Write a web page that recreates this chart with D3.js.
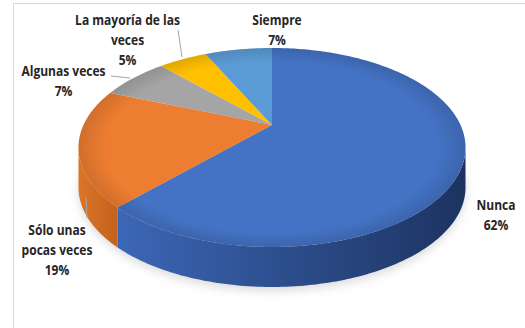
<!DOCTYPE html>
<html><head><meta charset="utf-8">
<script src="https://cdn.jsdelivr.net/npm/d3@7"></script>
<style>html,body{margin:0;padding:0;background:#fff;}svg{display:block;}</style>
</head><body><svg id="c" width="525" height="328"></svg>
<script>
const categories = ["Nunca", "Sólo unas pocas veces", "Algunas veces", "La mayoría de las veces", "Siempre"];
const values = [62, 19, 7, 5, 7];
const labelLines = [["Nunca", "62%"], ["Sólo unas", "pocas veces", "19%"], ["Algunas veces", "7%"], ["La mayoría de las", "veces", "5%"], ["Siempre", "7%"]];
const topColors = ["#4472C4", "#ED7D31", "#A5A5A5", "#FFC000", "#5B9BD5"];
const sideLight = ["#3f6cbf", "#dc7429", "#949494", "#e6ad00", "#4f8bc2"];
const sideDark = ["#1c3360", "#c2621c", "#7a7a7a", "#c49200", "#3a6c9a"];

const svg = d3.select("#c");
const W = 525, H = 328;
svg.append("rect").attr("x", 13.5).attr("y", 3.5).attr("width", W).attr("height", H)
  .attr("fill", "#fff").attr("stroke", "#d9d9d9").attr("stroke-width", 1);

const cx = 272, cy = 125, A = 188.5, B = 94.4, k = 0.226, depth = 40;
function proj(theta, r = 1) {
  const u = r * Math.sin(theta), v = -r * Math.cos(theta);
  const s = 1 / (1 - k * v);
  return [cx + A * u * s, cy + B * v * s];
}
const pie = d3.pie().sort(null).value(d => d)(values);
const defs = svg.append("defs");
const blur = defs.append("filter").attr("id", "blur").attr("x", "-20%").attr("y", "-50%").attr("width", "140%").attr("height", "200%");
blur.append("feGaussianBlur").attr("stdDeviation", 5);

// shadow
const shadowPts = d3.range(0, 361, 3).map(a => { const p = proj(a * Math.PI / 180); return [p[0], p[1] + depth + 4]; });
svg.append("path").attr("d", d3.line()(shadowPts) + "Z").attr("fill", "#bfbfbf").attr("opacity", 0.55).attr("filter", "url(#blur)");

function arcPts(a0, a1) {
  const steps = Math.max(2, Math.ceil((a1 - a0) / (Math.PI / 180)));
  return d3.range(steps + 1).map(i => proj(a0 + (a1 - a0) * i / steps));
}
const silL = Math.acos(-k), silR = 2 * Math.PI - Math.acos(-k);
const g = svg.append("g");
pie.forEach((d, i) => {
  const a0 = Math.max(d.startAngle, silL), a1 = Math.min(d.endAngle, silR);
  if (a1 <= a0) return;
  const top = arcPts(a0, a1);
  const bot = top.map(p => [p[0], p[1] + depth]).reverse();
  const gid = "sg" + i;
  const xs = top.map(p => p[0]);
  const lg = defs.append("linearGradient").attr("id", gid).attr("gradientUnits", "userSpaceOnUse")
    .attr("x1", i === 0 ? cx - A : d3.min(xs)).attr("y1", 0).attr("x2", i === 0 ? cx + A * 1.03 : d3.max(xs)).attr("y2", 0);
  lg.append("stop").attr("offset", 0).attr("stop-color", sideLight[i]);
  lg.append("stop").attr("offset", 1).attr("stop-color", sideDark[i]);
  g.append("path").attr("d", d3.line()(top.concat(bot)) + "Z").attr("fill", `url(#${gid})`);
});
pie.forEach((d, i) => {
  const pts = [[cx, cy]].concat(arcPts(d.startAngle, d.endAngle));
  g.append("path").attr("d", d3.line()(pts) + "Z").attr("fill", topColors[i]);
});
// subtle rim darkening
const rg = defs.append("radialGradient").attr("id", "rim").attr("cx", 0.5).attr("cy", 0.5).attr("r", 0.5);
rg.append("stop").attr("offset", 0.86).attr("stop-color", "#000").attr("stop-opacity", 0);
rg.append("stop").attr("offset", 1).attr("stop-color", "#000").attr("stop-opacity", 0.12);
const rimPts = d3.range(0, 361, 2).map(a => proj(a * Math.PI / 180));
g.append("path").attr("d", d3.line()(rimPts) + "Z").attr("fill", "url(#rim)");

// labels: [center x, first baseline y]
const labelPos = [[496, 210], [57, 235], [63.5, 76.5], [127.5, 25.5], [277, 25]];
const lineH = 20;
pie.forEach((d, i) => {
  const t = svg.append("text").attr("text-anchor", "middle")
    .attr("transform", `translate(${labelPos[i][0]},0) scale(0.83,1)`)
    .attr("font-family", "'Open Sans', sans-serif").attr("font-weight", "bold")
    .attr("font-size", 14.5).attr("fill", "#262626");
  labelLines[i].forEach((ln, j) => {
    t.append("tspan").attr("x", 0).attr("y", labelPos[i][1] + j * lineH).text(ln);
  });
});
// leader lines
const leaders = [[[86, 197], [87, 218]], [[111, 76], [130, 78]], [[178, 30], [182, 57]]];
leaders.forEach(l => svg.append("path").attr("d", d3.line()(l)).attr("stroke", "#a6a6a6").attr("fill", "none").attr("stroke-width", 1));
</script></body></html>
